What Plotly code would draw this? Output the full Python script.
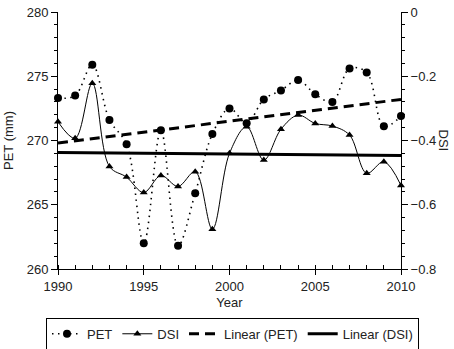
import plotly.graph_objects as go

years = list(range(1990, 2011))
pet = [273.3, 273.5, 275.9, 271.6, 269.7, 262.0, 270.8, 261.8, 265.9, 270.5,
       272.5, 271.35, 273.2, 273.9, 274.7, 273.6, 273.0, 275.6, 275.3, 271.1, 271.9]
dsi = [-0.342, -0.393, -0.222, -0.481, -0.514, -0.562, -0.509, -0.543, -0.497, -0.676,
       -0.44, -0.357, -0.461, -0.365, -0.321, -0.347, -0.355, -0.383, -0.502, -0.466, -0.540]
trend_years = [1990, 2010]
linear_pet = [269.8, 273.2]
linear_dsi = [-0.437, -0.447]

FONT = "Liberation Sans, Arial, sans-serif"
TXT = "#222"

fig = go.Figure()
fig.add_trace(go.Scatter(x=years, y=pet, name="PET", mode="lines+markers",
                         line=dict(color="black", width=1.6, dash="1.5px,4.5px", shape="spline"),
                         marker=dict(symbol="circle", size=8, color="black"),
                         cliponaxis=False))
fig.add_trace(go.Scatter(x=years, y=dsi, name="DSI", mode="lines+markers", yaxis="y2",
                         line=dict(color="black", width=1, shape="spline"),
                         marker=dict(symbol="triangle-up", size=7, color="black"),
                         cliponaxis=False))
fig.add_trace(go.Scatter(x=trend_years, y=linear_pet, name="Linear (PET)", mode="lines",
                         line=dict(color="black", width=3, dash="10px,6px")))
fig.add_trace(go.Scatter(x=trend_years, y=linear_dsi, name="Linear (DSI)", mode="lines",
                         yaxis="y2", line=dict(color="black", width=3)))

fig.update_layout(
    width=454, height=349,
    margin=dict(l=58, r=53, t=12, b=80, autoexpand=False),
    paper_bgcolor="white", plot_bgcolor="white",
    font=dict(family=FONT, size=13, color=TXT),
    xaxis=dict(range=[1990, 2010], dtick=5, tick0=1990, showline=True, linecolor="black",
               linewidth=1, mirror=False, showgrid=False, zeroline=False, automargin=False,
               ticks="outside", ticklen=5, tickcolor="black", ticklabeloverflow="allow",
               minor=dict(dtick=1, ticks="inside", ticklen=4, tickcolor="black"),
               title=dict(text="Year", standoff=5, font=dict(size=13))),
    yaxis=dict(range=[260, 280], dtick=5, showline=True, linecolor="black", linewidth=1,
               showgrid=False, zeroline=False, automargin=False, ticklabeloverflow="allow",
               ticks="outside", ticklen=6, tickcolor="black",
               minor=dict(dtick=1, ticks="outside", ticklen=3, tickcolor="black"),
               title=dict(text="PET (mm)", standoff=10, font=dict(size=13))),
    yaxis2=dict(range=[-0.8, 0], dtick=0.2, overlaying="y", side="right", showline=True,
                linecolor="black", linewidth=1, showgrid=False, zeroline=False, automargin=False,
                ticks="outside", ticklen=6, tickcolor="black", ticklabeloverflow="allow",
                minor=dict(dtick=0.04, ticks="outside", ticklen=3, tickcolor="black")),
    legend=dict(orientation="h", x=-0.035, xanchor="left", y=-0.19, yanchor="top",
                bordercolor="black", borderwidth=1, itemwidth=30,
                font=dict(size=13), tracegroupgap=0),
    annotations=[dict(text="DSI", x=1, xref="paper", y=0.5, yref="paper",
                      xanchor="center", yanchor="middle", xshift=42, textangle=90,
                      showarrow=False, font=dict(size=13, color=TXT))],
)

fig.write_html("out.html", config={"displayModeBar": False},
               post_script="document.body.style.margin='0';")
